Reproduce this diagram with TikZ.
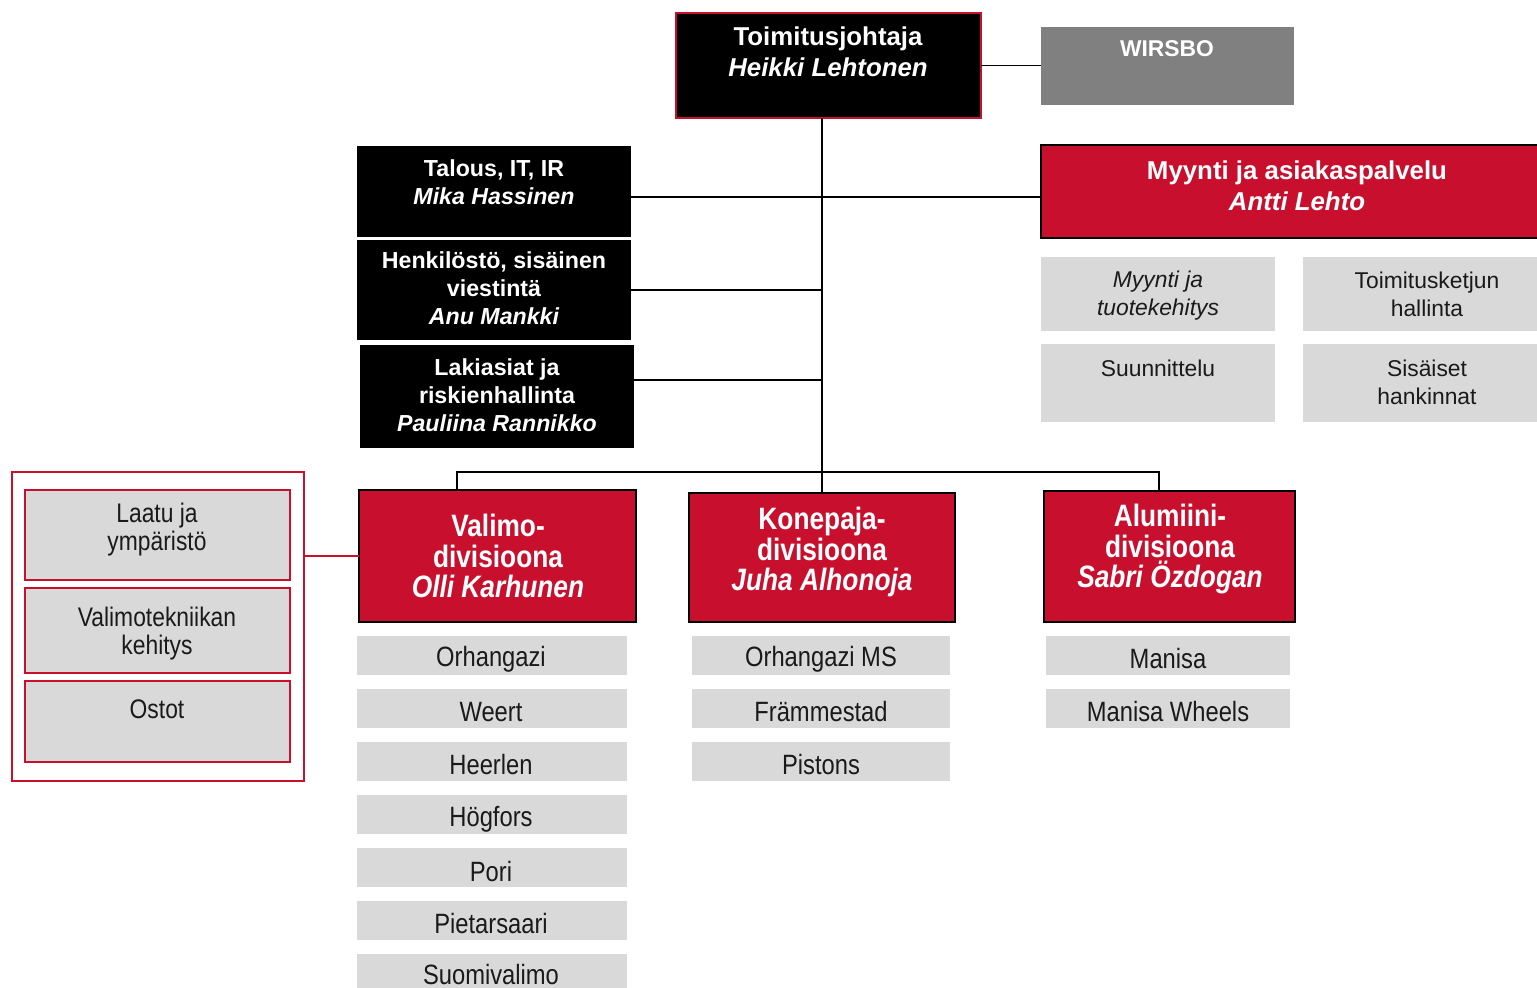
\documentclass[tikz,border=0pt]{standalone}
\usepackage{fontspec}
\setmainfont{Liberation Sans}
\newfontfamily\nar{Liberation Sans}[FakeStretch=0.85]
\definecolor{crim}{HTML}{C8102E}
\definecolor{lgray}{HTML}{D9D9D9}
\definecolor{wgray}{HTML}{808080}
\definecolor{dtext}{HTML}{1A1A1A}
\newcommand\mkbox[6]{\node[#1,anchor=north west,minimum width={(#5-(#3))*0.02cm},minimum height={(#6-(#4))*0.02cm}] (#2) at (#3,#4) {};}
\newcommand\tx[5]{\node[#1] (#2) at (#3,#4) {#5};}
\tikzset{
  shp/.style={rectangle,inner sep=0pt,outer sep=0pt},
  ceobox/.style={shp,fill=black,draw=crim,line width=1.3pt},
  blkbox/.style={shp,fill=black},
  redbox/.style={shp,fill=crim,draw=black,line width=1.3pt},
  wirbox/.style={shp,fill=wgray},
  graybox/.style={shp,fill=lgray},
  redgray/.style={shp,fill=lgray,draw=crim,line width=1.3pt},
  grpbox/.style={shp,draw=crim,line width=1.3pt},
  conn/.style={draw=black,line width=1.1pt},
  rconn/.style={draw=crim,line width=1.3pt},
  txt/.style={inner sep=0pt,align=center},
  headt/.style={txt,text=white,font=\fontsize{14.7pt}{17.6pt}\selectfont\bfseries},
  stafft/.style={txt,text=white,font=\fontsize{13.2pt}{15.9pt}\selectfont\bfseries},
  divt/.style={txt,text=white,font=\nar\fontsize{17.6pt}{17.6pt}\selectfont\bfseries},
  subt/.style={txt,text=dtext,font=\nar\fontsize{15.9pt}{15.9pt}\selectfont},
  grpt/.style={txt,text=dtext,font=\nar\fontsize{15.3pt}{15.9pt}\selectfont},
  myst/.style={txt,text=dtext,font=\fontsize{13pt}{15.9pt}\selectfont},
}
\begin{document}
\begin{tikzpicture}[x=0.02cm,y=-0.02cm]
\useasboundingbox (0,0) rectangle (1537,987);
% --- top
\mkbox{ceobox}{ceo}{676}{13}{981}{118}
\mkbox{wirbox}{wirsbo}{1041}{27}{1294}{105}
\tx{headt}{ceo-t}{828}{52}{Toimitusjohtaja\\\itshape Heikki Lehtonen}
\tx{headt,font=\fontsize{13pt}{15pt}\selectfont\bfseries}{wirsbo-t}{1167}{49}{WIRSBO}
% --- staff
\mkbox{blkbox}{talous}{357}{146}{631}{237}
\mkbox{blkbox}{henk}{357}{240}{631}{340}
\mkbox{blkbox}{laki}{360}{345}{634}{448}
\tx{stafft}{talous-t}{494}{182}{Talous, IT, IR\\\itshape Mika Hassinen}
\tx{stafft}{henk-t}{494}{288}{Henkilöstö, sisäinen\\viestintä\\\itshape Anu Mankki}
\tx{stafft}{laki-t}{497}{395}{Lakiasiat ja\\riskienhallinta\\\itshape Pauliina Rannikko}
% --- sales
\mkbox{redbox}{myynti}{1041}{145}{1548}{238}
\tx{headt}{myynti-t}{1297}{186}{Myynti ja asiakaspalvelu\\\itshape Antti Lehto}
\mkbox{graybox}{mtk}{1041}{257}{1275}{331}
\mkbox{graybox}{tkh}{1303}{257}{1537}{331}
\mkbox{graybox}{suun}{1041}{344}{1275}{422}
\mkbox{graybox}{sish}{1303}{344}{1537}{422}
\tx{myst,font=\fontsize{13pt}{15.9pt}\selectfont\itshape}{mtk-t}{1158}{296}{Myynti ja\\tuotekehitys}
\tx{myst}{tkh-t}{1427}{294}{Toimitusketjun\\hallinta}
\tx{myst}{suun-t}{1158}{368}{Suunnittelu}
\tx{myst}{sish-t}{1427}{382}{Sisäiset\\hankinnat}
% --- divisions
\mkbox{redbox}{valimo}{359}{490}{636}{622}
\mkbox{redbox}{konepaja}{689}{493}{955}{622}
\mkbox{redbox}{alumiini}{1044}{491}{1295}{622}
\tx{divt}{valimo-t}{498}{556}{Valimo-\\divisioona\\\itshape Olli Karhunen}
\tx{divt}{konepaja-t}{822}{552}{Konepaja-\\divisioona\\\itshape Juha Alhonoja}
\tx{divt}{alumiini-t}{1170}{549}{Alumiini-\\divisioona\\\itshape Sabri Özdogan}
% --- foundry support group
\mkbox{grpbox}{grp}{12}{472}{304}{781}
\mkbox{redgray}{laatu}{25}{490}{290}{580}
\mkbox{redgray}{vtk}{25}{588}{290}{673}
\mkbox{redgray}{ostot}{25}{681}{290}{762}
\tx{grpt}{laatu-t}{157}{530}{Laatu ja\\ympäristö}
\tx{grpt}{vtk-t}{157}{634}{Valimotekniikan\\kehitys}
\tx{grpt}{ostot-t}{157}{709}{Ostot}
% --- units
\mkbox{graybox}{v1}{357}{636}{627}{675}
\mkbox{graybox}{v2}{357}{689}{627}{728}
\mkbox{graybox}{v3}{357}{742}{627}{781}
\mkbox{graybox}{v4}{357}{795}{627}{834}
\mkbox{graybox}{v5}{357}{848}{627}{887}
\mkbox{graybox}{v6}{357}{901}{627}{940}
\mkbox{graybox}{v7}{357}{954}{627}{995}
\tx{subt}{v1-t}{491}{659}{Orhangazi}
\tx{subt}{v2-t}{491}{712}{Weert}
\tx{subt}{v3-t}{491}{765}{Heerlen}
\tx{subt}{v4-t}{491}{819}{Högfors}
\tx{subt}{v5-t}{491}{871}{Pori}
\tx{subt}{v6-t}{491}{924}{Pietarsaari}
\tx{subt}{v7-t}{491}{974}{Suomivalimo}
\mkbox{graybox}{k1}{692}{636}{950}{675}
\mkbox{graybox}{k2}{692}{689}{950}{728}
\mkbox{graybox}{k3}{692}{742}{950}{781}
\tx{subt}{k1-t}{821}{659}{Orhangazi MS}
\tx{subt}{k2-t}{821}{712}{Främmestad}
\tx{subt}{k3-t}{821}{765}{Pistons}
\mkbox{graybox}{a1}{1046}{636}{1290}{675}
\mkbox{graybox}{a2}{1046}{689}{1290}{728}
\tx{subt}{a1-t}{1168}{659}{Manisa}
\tx{subt}{a2-t}{1168}{712}{Manisa Wheels}
% --- connectors
\coordinate (j1) at (821,197);
\coordinate (j3) at (821,380);
\coordinate (bL) at (457,472);
\coordinate (bR) at (1159,472);
\draw[conn] (ceo.east) -- (ceo.east -| wirsbo.west);
\draw[conn] (konepaja.north |- ceo.south) -- (konepaja.north);
\draw[conn] (talous.east |- j1) -- (myynti.west |- j1);
\draw[conn] (henk.east) -- (henk.east -| konepaja.north);
\draw[conn] (laki.east |- j3) -- (j3 -| konepaja.north);
\draw[conn] (bL |- valimo.north) -- (bL) -- (bR) -- (bR |- alumiini.north);
\draw[rconn] (grp.east |- valimo.west) -- (valimo.west);
\end{tikzpicture}
\end{document}
